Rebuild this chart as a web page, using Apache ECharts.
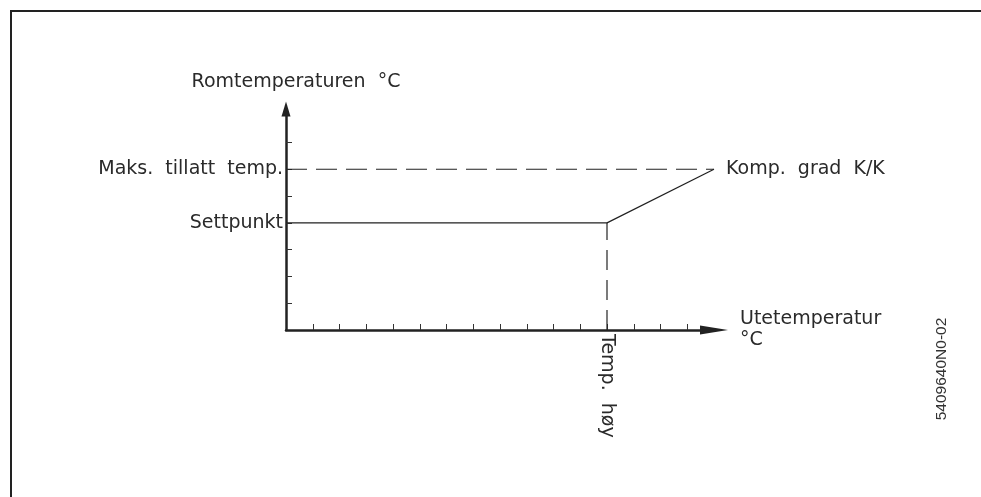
<!DOCTYPE html>
<html>
<head>
<meta charset="utf-8">
<script src="https://cdn.jsdelivr.net/npm/echarts@6/dist/echarts.min.js"></script>
<style>
html,body{margin:0;padding:0;background:#fff;}
#chart{width:981px;height:497px;}
</style>
</head>
<body>
<div id="chart"></div>
<script>
// ---- data ----
const xTickValues = [1,2,3,4,5,6,7,8,9,10,11,12,13,14,15];
const yTickValues = [1,2,3,4,5,6,7];
const setpointLine = [[0,4],[12,4],[16,6]];
const maxTempLine = [[0,6],[16,6]];
const highTempLine = [[12,0],[12,4]];
const yLabelValues = [4, 6];
const yLabelTexts = ['Settpunkt', 'Maks.  tillatt  temp.'];
const xLabelValues = [12];
const xLabelTexts = ['Temp.  høy'];
const yAxisTitle = 'Romtemperaturen  °C';
const xAxisTitle = 'Utetemperatur\n°C';
const slopeLabel = 'Komp.  grad  K/K';
const drawingId = '5409640N0-02';

const FONT = 'DejaVu Sans';
const INK = '#222';
const textStyle = {fontFamily: FONT, fontSize: 19, color: '#2a2a2a', fontWeight: 'normal'};

const chart = echarts.init(document.getElementById('chart'), null, {renderer: 'canvas'});
chart.setOption({
  animation: false,
  backgroundColor: '#fff',
  grid: {left: 286, right: 267, top: 109, bottom: 167},
  xAxis: {
    type: 'value', min: 0, max: 16, interval: 1,
    splitLine: {show: false},
    axisLine: {show: true, onZero: false, symbol: ['none', 'triangle'], symbolSize: [9, 28],
      lineStyle: {color: INK, width: 2.5}},
    axisTick: {show: true, inside: true, length: 6, customValues: xTickValues,
      lineStyle: {color: '#333', width: 1}},
    axisLabel: Object.assign({show: true, rotate: -90, margin: 4, customValues: xLabelValues,
      formatter: v => xLabelTexts[xLabelValues.indexOf(v)] || ''}, textStyle),
    name: xAxisTitle, nameLocation: 'end', nameGap: 26,
    nameTextStyle: Object.assign({align: 'left', lineHeight: 21}, textStyle)
  },
  yAxis: {
    type: 'value', min: 0, max: 8.25, interval: 1,
    splitLine: {show: false},
    axisLine: {show: true, onZero: false, symbol: ['none', 'triangle'], symbolSize: [9, 15],
      lineStyle: {color: INK, width: 2.5}},
    axisTick: {show: true, inside: true, length: 6, customValues: yTickValues,
      lineStyle: {color: '#333', width: 1}},
    axisLabel: Object.assign({show: true, margin: 3, customValues: yLabelValues,
      formatter: v => yLabelTexts[yLabelValues.indexOf(v)] || ''}, textStyle),
    name: yAxisTitle, nameLocation: 'end', nameGap: 17,
    nameTextStyle: Object.assign({padding: [0, 0, 0, 20]}, textStyle)
  },
  series: [
    {type: 'line', data: setpointLine, symbol: 'none', silent: true,
      lineStyle: {color: INK, width: 1.2},
      endLabel: Object.assign({show: true, formatter: () => slopeLabel, distance: 12}, textStyle)},
    {type: 'line', data: maxTempLine, symbol: 'none', silent: true,
      lineStyle: {color: INK, width: 1.2, type: [21, 9]}},
    {type: 'line', data: highTempLine, symbol: 'none', silent: true,
      lineStyle: {color: INK, width: 1.2, type: [20, 10]}}
  ],
  graphic: [
    {type: 'rect', silent: true, shape: {x: 11, y: 11, width: 1100, height: 700},
      style: {fill: 'none', stroke: INK, lineWidth: 2}},
    {type: 'text', silent: true, x: 942, y: 369, rotation: Math.PI / 2,
      style: {text: drawingId, fontFamily: 'Liberation Sans', fontSize: 15.5, fill: '#333',
        align: 'center', verticalAlign: 'middle'}}
  ]
});
</script>
</body>
</html>
